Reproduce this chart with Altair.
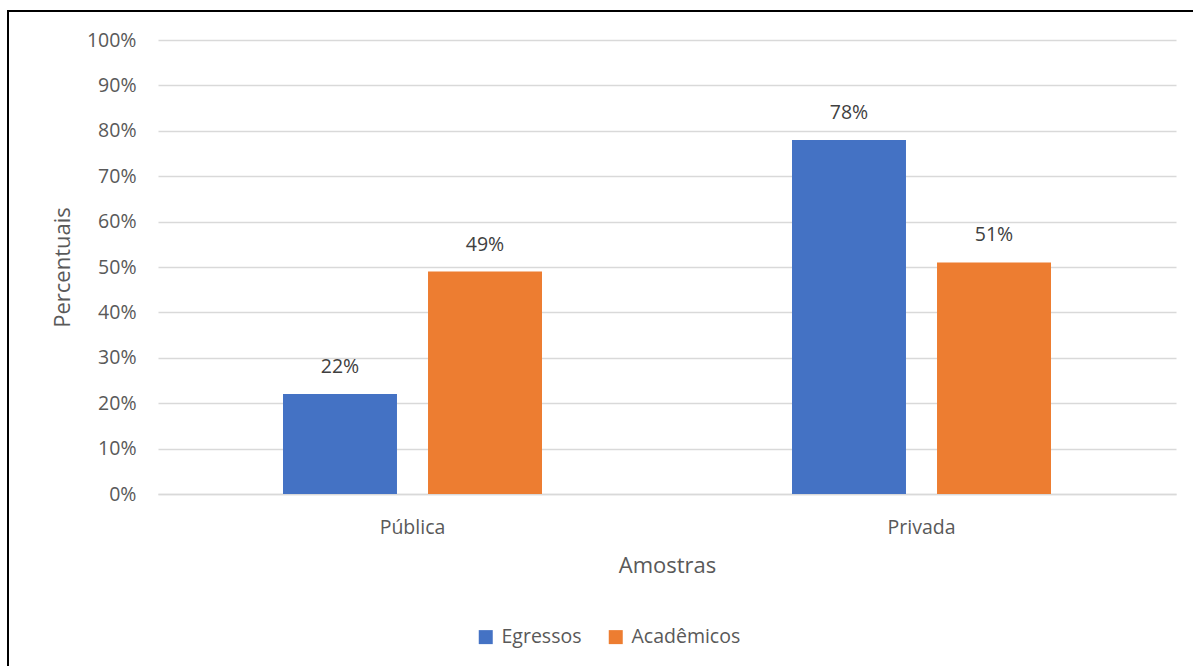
import altair as alt
import pandas as pd

categories = ["Pública", "Pública", "Privada", "Privada"]
series = ["Egressos", "Acadêmicos", "Egressos", "Acadêmicos"]
values = [0.22, 0.49, 0.78, 0.51]
labels = ["22%", "49%", "78%", "51%"]

df = pd.DataFrame({"Amostra": categories, "Serie": series, "Valor": values, "Rotulo": labels})

FONT = "Open Sans"
W, H = 1018, 454

x = alt.X("Amostra:N", sort=["Pública", "Privada"], title="Amostras",
          scale=alt.Scale(paddingInner=0, paddingOuter=0),
          axis=alt.Axis(labelAngle=0, ticks=False, domain=True, domainColor="#d9d9d9",
                        domainWidth=1.5, labelPadding=24, titlePadding=19,
                        labelFontSize=19.5, titleFontSize=22))
xoff = alt.XOffset("Serie:N", sort=["Egressos", "Acadêmicos"],
                   scale=alt.Scale(paddingInner=0.214, paddingOuter=0.862))
color = alt.Color("Serie:N", sort=["Egressos", "Acadêmicos"],
                  scale=alt.Scale(domain=["Egressos", "Acadêmicos"], range=["#4472C4", "#ED7D31"]),
                  legend=alt.Legend(title=None, orient="none", direction="horizontal",
                                    legendX=318, legendY=587, symbolType="square",
                                    symbolSize=196, symbolStrokeWidth=0, labelFontSize=19.5,
                                    columnPadding=24, labelOffset=6))

bars = alt.Chart(df).mark_bar().encode(
    x=x, xOffset=xoff,
    y=alt.Y("Valor:Q", title="Percentuais",
            scale=alt.Scale(domain=[0, 1], nice=False),
            axis=alt.Axis(format=".0%", values=[i / 10 for i in range(11)], ticks=False,
                          domain=False, labelPadding=22, labelFontSize=19.5,
                          titleFontSize=22, titleFontWeight="normal", titleX=-84,
                          gridColor="#d9d9d9", gridWidth=1.5)),
    color=color,
)

text = alt.Chart(df).mark_text(baseline="middle", dy=-27, fontSize=19.5, color="#404040", font=FONT).encode(
    x=alt.X("Amostra:N", sort=["Pública", "Privada"]), xOffset=xoff,
    y="Valor:Q", text="Rotulo:N",
)

border = alt.Chart(df).mark_rect(fill=None, stroke="black", strokeWidth=2).encode(
    x=alt.value(-150), x2=alt.value(1200), y=alt.value(-29), y2=alt.value(800)
)

chart = alt.layer(bars, text, border).properties(
    width=W, height=H,
    padding={"left": 158, "top": 40, "right": 17, "bottom": 172},
    autosize=alt.AutoSizeParams(type="none"),
).configure_view(stroke=None).configure_axis(
    labelFont=FONT, titleFont=FONT, labelColor="#595959", titleColor="#595959",
    titleFontWeight="normal", grid=True,
).configure_axisX(grid=False).configure_legend(
    labelFont=FONT, labelColor="#595959"
)

chart.save("out.html", embed_options={"renderer": "svg", "actions": False})
